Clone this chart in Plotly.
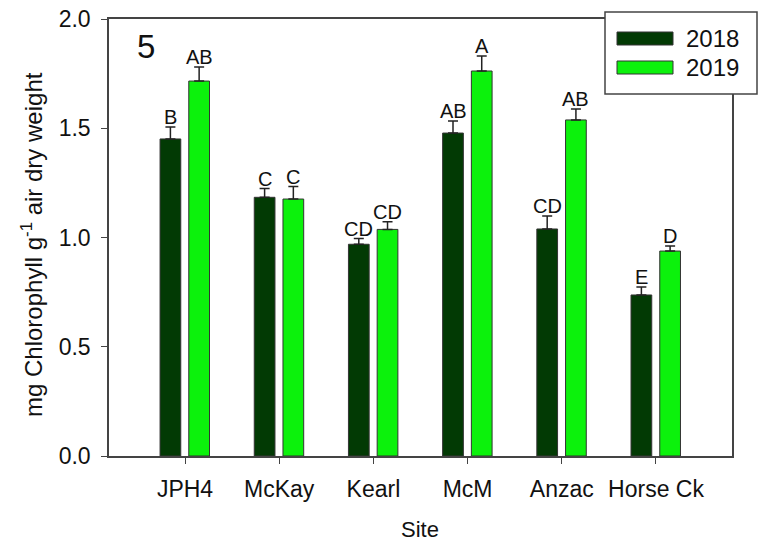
import plotly.graph_objects as go

sites = ["JPH4", "McKay", "Kearl", "McM", "Anzac", "Horse Ck"]
vals_2018 = [1.451, 1.184, 0.969, 1.478, 1.039, 0.737]
err_2018 = [0.055, 0.040, 0.026, 0.055, 0.059, 0.036]
vals_2019 = [1.716, 1.176, 1.037, 1.762, 1.538, 0.938]
err_2019 = [0.064, 0.057, 0.035, 0.069, 0.050, 0.023]
letters_2018 = ["B", "C", "CD", "AB", "CD", "E"]
letters_2019 = ["AB", "C", "CD", "A", "AB", "D"]
y_ticks = [0.0, 0.5, 1.0, 1.5, 2.0]

dark = "#023a04"
light = "#0cf20c"
edge = "#333333"
font_family = "Liberation Sans, Arial, sans-serif"

x_idx = list(range(len(sites)))

fig = go.Figure()
fig.add_trace(go.Bar(
    x=x_idx, y=vals_2018, name="2018", width=0.22, offset=-0.265,
    marker=dict(color=dark, line=dict(color=edge, width=1)),
    error_y=dict(type="data", symmetric=False, array=err_2018,
                 arrayminus=[0] * len(err_2018), color="#222222",
                 thickness=1.5, width=5),
))
fig.add_trace(go.Bar(
    x=x_idx, y=vals_2019, name="2019", width=0.22, offset=0.04,
    marker=dict(color=light, line=dict(color=edge, width=1)),
    error_y=dict(type="data", symmetric=False, array=err_2019,
                 arrayminus=[0] * len(err_2019), color="#222222",
                 thickness=1.5, width=5),
))

annotations = []
for i in x_idx:
    annotations.append(dict(
        x=i - 0.265 + 0.11, y=vals_2018[i] + err_2018[i], xref="x", yref="y",
        text=letters_2018[i], showarrow=False, yanchor="bottom", yshift=-3,
        font=dict(size=20, color="#111111", family=font_family)))
    annotations.append(dict(
        x=i + 0.04 + 0.11, y=vals_2019[i] + err_2019[i], xref="x", yref="y",
        text=letters_2019[i], showarrow=False, yanchor="bottom", yshift=-3,
        font=dict(size=20, color="#111111", family=font_family)))

# page pixel -> paper coordinates (plot area spans x 109..732, y 19..456 on the page)
pw = 732 - 109
ph = 456 - 19
def px_x(p):
    return (p - 109) / pw
def px_y(p):
    return (456 - p) / ph

# panel label
annotations.append(dict(
    x=px_x(146), y=px_y(46), xref="paper", yref="paper", text="5", showarrow=False,
    xanchor="center", yanchor="middle",
    font=dict(size=33, color="#111111", family=font_family)))

# axis titles
annotations.append(dict(
    x=px_x(32), y=px_y(245), xref="paper", yref="paper",
    text="mg Chlorophyll g<sup>-1</sup> air dry weight", textangle=-90,
    showarrow=False, xanchor="center", yanchor="middle",
    font=dict(size=24, color="#111111", family=font_family)))
annotations.append(dict(
    x=px_x(420), y=px_y(529), xref="paper", yref="paper", text="Site",
    showarrow=False, xanchor="center", yanchor="middle",
    font=dict(size=22, color="#111111", family=font_family)))

# manual legend
shapes = [
    dict(type="rect", xref="paper", yref="paper",
         x0=px_x(605), x1=px_x(757), y0=px_y(94), y1=px_y(12),
         line=dict(color="#444444", width=1.5), fillcolor="white", layer="above"),
    dict(type="rect", xref="paper", yref="paper",
         x0=px_x(617), x1=px_x(673), y0=px_y(45), y1=px_y(32),
         line=dict(color=edge, width=1), fillcolor=dark, layer="above"),
    dict(type="rect", xref="paper", yref="paper",
         x0=px_x(617), x1=px_x(673), y0=px_y(74), y1=px_y(61),
         line=dict(color=edge, width=1), fillcolor=light, layer="above"),
]
annotations.append(dict(
    x=px_x(684), y=px_y(38.5), xref="paper", yref="paper", text="2018",
    showarrow=False, xanchor="left", yanchor="middle",
    font=dict(size=24, color="#111111", family=font_family)))
annotations.append(dict(
    x=px_x(684), y=px_y(67.5), xref="paper", yref="paper", text="2019",
    showarrow=False, xanchor="left", yanchor="middle",
    font=dict(size=24, color="#111111", family=font_family)))

fig.update_layout(
    width=758, height=544,
    margin=dict(l=109, r=758 - 732, t=19, b=544 - 456, autoexpand=False),
    paper_bgcolor="white", plot_bgcolor="white",
    showlegend=False,
    barmode="overlay",
    font=dict(family=font_family, color="#111111"),
    shapes=shapes,
    annotations=annotations,
    xaxis=dict(
        range=[-0.807, 5.807], tickmode="array", tickvals=x_idx, ticktext=sites,
        ticks="outside", ticklen=6, tickcolor="#444444",
        showline=True, linecolor="#444444", linewidth=1.5, mirror=True,
        showgrid=False, zeroline=False, automargin=False, ticklabelstandoff=6,
        ticklabeloverflow="allow",
        tickfont=dict(size=23, color="#111111"),
    ),
    yaxis=dict(
        range=[0, 2.0], tickmode="array", tickvals=y_ticks,
        ticktext=[f"{v:.1f}" for v in y_ticks],
        ticks="outside", ticklen=6, tickcolor="#444444",
        showline=True, linecolor="#444444", linewidth=1.5, mirror=True,
        showgrid=False, zeroline=False, automargin=False, ticklabelstandoff=6,
        ticklabeloverflow="allow",
        tickfont=dict(size=23, color="#111111"),
    ),
)

fig.write_html(
    "out.html",
    config={"displayModeBar": False},
    post_script="document.body.style.margin='0px';document.body.style.overflow='hidden';",
)
